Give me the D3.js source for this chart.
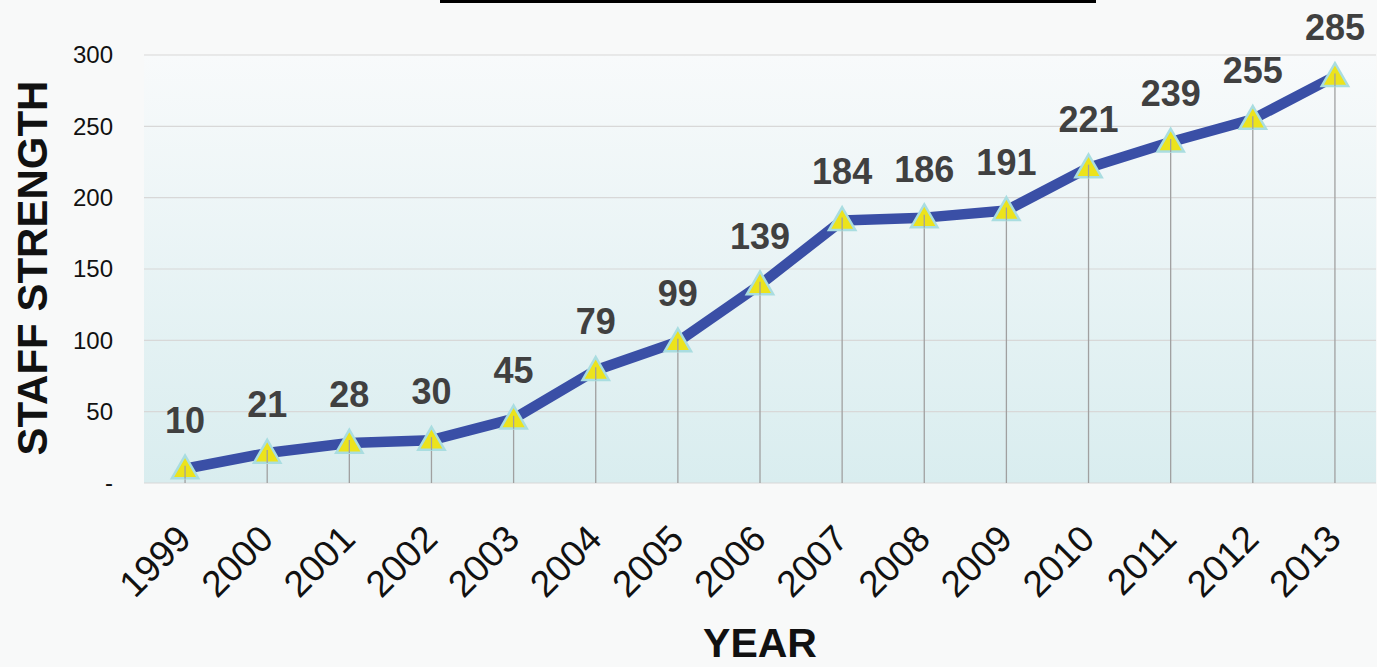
<!DOCTYPE html>
<html><head><meta charset="utf-8">
<script src="https://cdn.jsdelivr.net/npm/d3@7"></script>
<style>body{margin:0;background:#f8f9f9;}svg{display:block;}</style>
</head><body>
<svg id="c" width="1377" height="667"></svg>
<script>
const years = ["1999","2000","2001","2002","2003","2004","2005","2006","2007","2008","2009","2010","2011","2012","2013"];
const staff = [10,21,28,30,45,79,99,139,184,186,191,221,239,255,285];
const yTicks = [0,50,100,150,200,250,300];

(function(){
const svg = d3.select("#c");
const pL = 144, pR = 1376, pT = 55, pB = 483;
const x = d3.scaleBand().domain(years).range([pL, pR]);
const y = d3.scaleLinear().domain([0,300]).range([pB, pT]);
const cx = d => x(d) + x.bandwidth()/2;
const FF = "Liberation Sans, Arial, sans-serif";

const defs = svg.append("defs");
const g = defs.append("linearGradient").attr("id","bg").attr("x1",0).attr("y1",0).attr("x2",0).attr("y2",1);
g.append("stop").attr("offset","0%").attr("stop-color","#f8fafb");
g.append("stop").attr("offset","100%").attr("stop-color","#d9edef");

// title remnant
svg.append("rect").attr("x",440).attr("y",0).attr("width",656).attr("height",3).attr("fill","#000");

svg.append("rect").attr("x",pL).attr("y",pT).attr("width",pR-pL).attr("height",pB-pT).attr("fill","url(#bg)");

// gridlines
svg.append("g").selectAll("line").data(yTicks).join("line")
  .attr("x1",pL).attr("x2",pR).attr("y1",d=>y(d)).attr("y2",d=>y(d))
  .attr("stroke","#d8d8d8").attr("stroke-width",1.2);

// y axis labels
const yAxis = d3.axisLeft(y).tickValues(yTicks).tickSize(0).tickPadding(0)
  .tickFormat(d => d===0 ? "-" : d);
const ya = svg.append("g").attr("transform",`translate(${pL-31},0)`).call(yAxis);
ya.select(".domain").remove();
ya.selectAll("text").attr("font-family",FF).attr("font-size",24).attr("fill","#111");

// drop lines
const idx = years.map((d,i)=>i);
svg.append("g").selectAll("line").data(idx).join("line")
  .attr("x1",i=>cx(years[i])).attr("x2",i=>cx(years[i]))
  .attr("y1",i=>y(staff[i])).attr("y2",pB)
  .attr("stroke","#a0a0a0").attr("stroke-width",1.3);

// line
const line = d3.line().x(i=>cx(years[i])).y(i=>y(staff[i]));
svg.append("path").datum(idx).attr("d",line).attr("fill","none")
  .attr("stroke","#3a4fa6").attr("stroke-width",10.5).attr("stroke-linejoin","round");

// markers
const tri = d3.symbol().type(d3.symbolTriangle).size(300);
svg.append("g").selectAll("path").data(idx).join("path")
  .attr("d",tri).attr("transform",i=>`translate(${cx(years[i])},${y(staff[i])+2})`)
  .attr("fill","#ece31c").attr("stroke","#a9dde0").attr("stroke-width",2.5);
svg.append("g").selectAll("line").data(idx).join("line")
  .attr("x1",i=>cx(years[i])).attr("x2",i=>cx(years[i]))
  .attr("y1",i=>y(staff[i])-3).attr("y2",i=>y(staff[i])+10)
  .attr("stroke","#a0a0a0").attr("stroke-width",1.3);

// value labels
svg.append("g").selectAll("text").data(idx).join("text")
  .attr("x",i=>cx(years[i])).attr("y",i=>y(staff[i])-36)
  .attr("text-anchor","middle").attr("font-family",FF)
  .attr("font-weight","bold").attr("font-size",36).attr("fill","#404040")
  .text(i=>staff[i]);

// x axis labels
const xAxis = d3.axisBottom(x).tickSize(0).tickPadding(0);
const xa = svg.append("g").attr("transform",`translate(0,${pB})`).call(xAxis);
xa.select(".domain").remove();
xa.selectAll("text").attr("font-family",FF).attr("font-size",37).attr("fill","#111")
  .attr("text-anchor","end").attr("dy",0).attr("y",0)
  .attr("transform","translate(8,58) rotate(-45)");

// axis titles
svg.append("text").attr("transform","translate(47,268) rotate(-90)").attr("text-anchor","middle")
  .attr("font-family",FF).attr("font-weight","bold").attr("font-size",42).attr("fill","#111")
  .text("STAFF STRENGTH");
svg.append("text").attr("x",760).attr("y",657).attr("text-anchor","middle")
  .attr("font-family",FF).attr("font-weight","bold").attr("font-size",41).attr("fill","#111")
  .text("YEAR");
})();
</script>
</body></html>
